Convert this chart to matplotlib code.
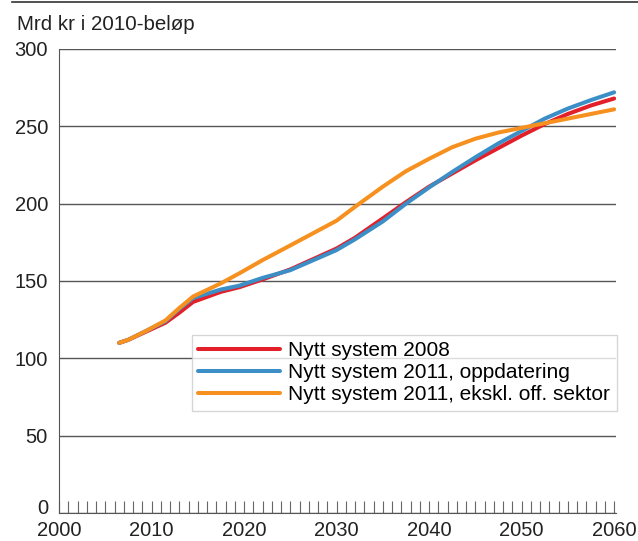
import matplotlib
matplotlib.use("Agg")
import matplotlib.pyplot as plt
import matplotlib.transforms as mtransforms
from matplotlib.lines import Line2D
from matplotlib.ticker import MultipleLocator, FuncFormatter

plt.rcParams['font.family'] = ['Liberation Sans', 'DejaVu Sans']

years = [2006.5, 2007.5, 2009.5, 2011.5, 2013, 2014.5, 2017.5, 2019.5, 2022,
         2025, 2030, 2032, 2035, 2037.5, 2040, 2042.5, 2045, 2047.5, 2050,
         2052.5, 2055, 2057.5, 2060]
red = [110, 112, 117.5, 123, 129.5, 136.5, 143, 146, 151, 157.5, 171, 178,
       190.5, 201, 211, 219.5, 228, 236, 244, 251.5, 258, 263.5, 268]
blue = [110, 112, 118, 124, 132, 139, 144.5, 147, 152, 157, 170, 177,
        188.5, 200, 210.5, 220.5, 230, 239, 247, 255, 261.5, 267, 272]
orange = [110, 112, 118, 124.5, 132.5, 140, 148.5, 155, 163.5, 173, 189,
          198, 211, 221, 229, 236.5, 242, 246, 249, 252, 255, 258, 261]

labels = ["Nytt system 2008", "Nytt system 2011, oppdatering",
          "Nytt system 2011, ekskl. off. sektor"]
colors = ["#e3202a", "#3b8fc6", "#f6901e"]
ylabel = "Mrd kr i 2010-beløp"

W, H = 638, 541
fig = plt.figure(figsize=(W / 100, H / 100), dpi=100)
ax = fig.add_axes([59 / W, 1 - 513 / H, (616 - 59) / W, (513 - 49) / H])

for s, lab, c in zip([red, blue, orange], labels, colors):
    ax.plot(years, s, color=c, lw=2.9, label=lab, solid_capstyle='round',
            solid_joinstyle='round')

ax.set_xlim(2000, 2060.2)
ax.set_ylim(0, 300)
ax.set_yticks(range(0, 301, 50))
ax.yaxis.set_major_formatter(FuncFormatter(lambda v, p: "" if v == 0 else f"{v:.0f}"))
ax.set_xticks(range(2000, 2061, 10))
ax.xaxis.set_minor_locator(MultipleLocator(1))
ax.yaxis.grid(True, color="#555555", lw=1.0)
ax.set_axisbelow(True)
for sp in ["top", "right"]:
    ax.spines[sp].set_visible(False)
ax.spines["left"].set_color("#555555")
ax.spines["bottom"].set_color("#555555")
ax.tick_params(axis='y', length=0, pad=8, labelsize=14.5, colors="#222222")
ax.tick_params(axis='x', which='both', direction='in', length=9, width=0.8,
               color="#666666", labelsize=14.5, pad=6, labelcolor="#222222")

# "0" label lifted a little so it sits just above the 2000 label
off = mtransforms.ScaledTranslation(-8 / 72, 3 / 72, fig.dpi_scale_trans)
ax.text(0, 0, "0", transform=ax.get_yaxis_transform() + off, ha='right',
        va='center', fontsize=14.5, color="#222222")

leg = ax.legend(loc="upper left",
                bbox_to_anchor=((192 - 59) / (616 - 59), (513 - 335) / (513 - 49)),
                fontsize=15, frameon=True, fancybox=False, edgecolor="#cccccc",
                handlelength=3.9, handletextpad=0.43, borderpad=0.3,
                labelspacing=0.15, borderaxespad=0)
leg.get_frame().set_linewidth(1.0)

fig.text(17 / W, 1 - 24 / H, ylabel, fontsize=14.8, ha='left', va='center', color="#222222")
fig.add_artist(Line2D([12 / W, 1], [1 - 2 / H, 1 - 2 / H], color="#333333", lw=1.2))

fig.savefig("out.png", dpi=100)
